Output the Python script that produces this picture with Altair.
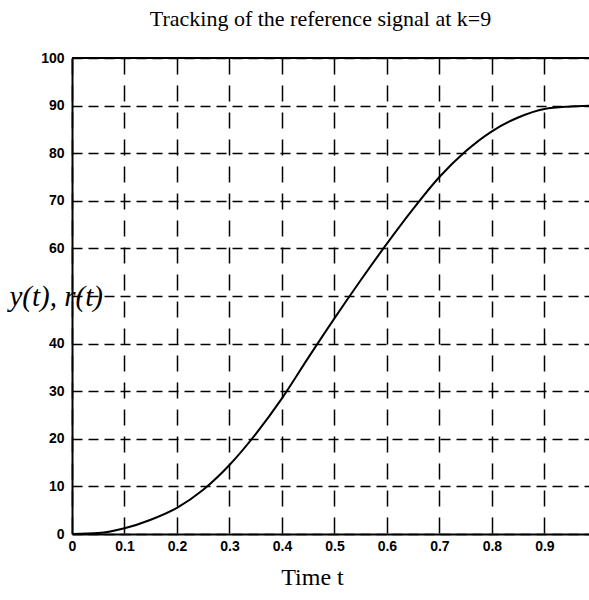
import altair as alt
import pandas as pd

# Output y(t) tracking the reference r(t)
t_vals = [0.0, 0.05, 0.1, 0.15, 0.2, 0.25, 0.3, 0.35, 0.4, 0.45, 0.5,
          0.55, 0.6, 0.65, 0.7, 0.75, 0.8, 0.85, 0.9, 0.95, 1.0]
y_vals = [0.0, 0.2, 1.2, 3.0, 5.5, 9.3, 14.5, 21.0, 28.5, 37.0, 45.3,
          53.3, 61.0, 68.3, 75.0, 80.4, 84.6, 87.5, 89.3, 89.8, 90.0]

x_ticks = [0, 0.1, 0.2, 0.3, 0.4, 0.5, 0.6, 0.7, 0.8, 0.9]
y_ticks = [0, 10, 20, 30, 40, 50, 60, 70, 80, 90, 100]

df = pd.DataFrame({"t": t_vals, "y": y_vals})

serif = "Liberation Serif"
sans = "Liberation Sans"

x_enc = alt.X(
    "t:Q",
    scale=alt.Scale(domain=[0, 0.985], nice=False, zero=False),
    axis=alt.Axis(
        values=x_ticks, format="~g", title="Time t", titleFont=serif,
        titleFontSize=24, titleFontWeight="normal", titleColor="black",
        titleX=240, titleY=43, titleAlign="center", titleBaseline="middle",
        labelFont=sans, labelFontSize=14, labelColor="black",
        labelFontWeight="bold", labelPadding=5, labelFlush=False,
        domainColor="black", domainWidth=2, ticks=False,
        grid=True, gridColor="black", gridDash=[16, 11], gridWidth=1.5,
    ),
)
y_enc = alt.Y(
    "y:Q",
    scale=alt.Scale(domain=[0, 100], nice=False),
    axis=alt.Axis(
        values=y_ticks, title="y(t), r(t)", titleFont=serif, titleFontSize=29,
        titleFontStyle="italic", titleFontWeight="normal", titleColor="black",
        titleAngle=0, titleAlign="left", titleBaseline="middle",
        titleX=-63, titleY=238,
        labelExpr="datum.value == 50 ? '' : datum.label",
        labelFont=sans, labelFontSize=14, labelColor="black",
        labelFontWeight="bold", labelPadding=8, labelFlush=False,
        domainColor="black", domainWidth=2, ticks=False,
        grid=True, gridColor="black", gridDash=[10, 6], gridWidth=1.5,
    ),
)

curve = alt.Chart(df).mark_line(
    color="black", strokeWidth=2, interpolate="monotone", clip=True
).encode(x=x_enc, y=y_enc)

top_border = alt.Chart(df).mark_rule(color="black", strokeWidth=2).encode(
    y=alt.datum(100)
)

chart = (
    alt.layer(curve, top_border)
    .properties(
        width=517,
        height=476,
        title=alt.TitleParams(
            "Tracking of the reference signal at k=9",
            font=serif, fontSize=22, fontWeight="normal", color="black",
            anchor="middle", dx=-10, offset=20,
        ),
        autosize=alt.AutoSizeParams(type="none"),
        padding={"left": 72, "top": 58, "right": 0, "bottom": 66},
        background="white",
    )
    .configure_view(stroke=None)
)

chart.save("out.html", embed_options={"renderer": "svg", "actions": False})
